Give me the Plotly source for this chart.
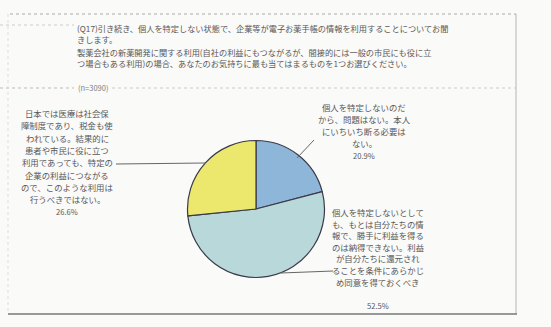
import plotly.graph_objects as go

W, H = 551, 327

# Survey answers (clockwise from 12 o'clock)
answer_lines = [
    ["個人を特定しないのだ", "から、問題はない。本人", "にいちいち断る必要は", "ない。"],
    ["個人を特定しないとして", "も、もとは自分たちの情", "報で、勝手に利益を得る", "のは納得できない。利益",
     "が自分たちに還元され", "ることを条件にあらかじ", "め同意を得ておくべき"],
    ["日本では医療は社会保", "障制度であり、税金も使", "われている。結果的に", "患者や市民に役に立つ",
     "利用であっても、特定の", "企業の利益につながる", "ので、このような利用は", "行うべきではない。"],
]
shares = [20.9, 52.5, 26.6]
colors = ["#8db6d9", "#b9d8da", "#ece86e"]

question_lines = [
    "(Q17)引き続き、個人を特定しない状態で、企業等が電子お薬手帳の情報を利用することについてお聞",
    "きします。",
    "製薬会社の新薬開発に関する利用(自社の利益にもつながるが、間接的には一般の市民にも役に立",
    "つ場合もある利用)の場合、あなたのお気持ちに最も当てはまるものを1つお選びください。",
]
sample_note = "(n=3090)"

FONT = "Noto Sans CJK JP"
TXT = "#585858"


def px(x):
    return x / W


def py(y):
    return 1 - y / H


# pie placement (pixels)
cx, cy, r = 256, 209, 68.5

fig = go.Figure()
fig.add_trace(go.Pie(
    values=shares,
    labels=["A", "B", "C"],
    sort=False,
    direction="clockwise",
    rotation=0,
    marker=dict(colors=colors, line=dict(color="#3a3a4a", width=1.2)),
    textinfo="none",
    hoverinfo="skip",
    showlegend=False,
    domain=dict(x=[px(cx - r), px(cx + r)], y=[py(cy + r), py(cy - r)]),
))

ann = []
shapes = []

# question block
for line, yy in zip(question_lines, [28, 39, 52, 63]):
    ann.append(dict(x=px(75), y=py(yy), xref="paper", yref="paper", text=line, showarrow=False,
                    xanchor="left", yanchor="middle", font=dict(family=FONT, size=8.2, color=TXT)))
ann.append(dict(x=px(76), y=py(88), xref="paper", yref="paper", text=sample_note, showarrow=False,
                xanchor="left", yanchor="middle", font=dict(family=FONT, size=7.5, color="#808080")))

# slice labels: (center x, first line y, line step)
label_pos = [(364, 107, 12.0), (378, 212, 11.6), (67, 113, 12.3)]
for lines, val, (lx, ly, step) in zip(answer_lines, shares, label_pos):
    for k, line in enumerate(lines):
        ann.append(dict(x=px(lx), y=py(ly + k * step), xref="paper", yref="paper", text=line,
                        showarrow=False, xanchor="center", yanchor="middle",
                        font=dict(family=FONT, size=8.4, color=TXT)))
    pct_y = ly + len(lines) * step + (12 if len(lines) == 7 else 0)
    ann.append(dict(x=px(lx), y=py(pct_y), xref="paper", yref="paper", text=f"{val}%",
                    showarrow=False, xanchor="center", yanchor="middle",
                    font=dict(family=FONT, size=7.6, color=TXT)))

# leader lines
for x0, y0, x1, y1 in [(314, 140, 297, 158), (116, 164, 205, 163), (281, 273, 333, 271)]:
    shapes.append(dict(type="line", xref="paper", yref="paper", x0=px(x0), y0=py(y0), x1=px(x1), y1=py(y1),
                       line=dict(color="#666666", width=1)))

# frame and rulings
shapes += [
    dict(type="line", xref="paper", yref="paper", x0=px(10), y0=py(14), x1=px(516), y1=py(14),
         line=dict(color="#aaaaaa", width=1, dash="dot")),
    dict(type="line", xref="paper", yref="paper", x0=px(0), y0=py(25), x1=px(74), y1=py(25),
         line=dict(color="#cccccc", width=1, dash="dot")),
    dict(type="line", xref="paper", yref="paper", x0=px(0), y0=py(88), x1=px(74), y1=py(88),
         line=dict(color="#bbbbbb", width=1, dash="dot")),
    dict(type="line", xref="paper", yref="paper", x0=px(112), y0=py(88), x1=px(516), y1=py(88),
         line=dict(color="#cccccc", width=1, dash="dot")),
    dict(type="line", xref="paper", yref="paper", x0=px(516), y0=py(14), x1=px(516), y1=py(314),
         line=dict(color="#b5b5b5", width=1)),
    dict(type="line", xref="paper", yref="paper", x0=px(8), y0=py(14), x1=px(8), y1=py(314),
         line=dict(color="#dddddd", width=1, dash="dot")),
    dict(type="line", xref="paper", yref="paper", x0=px(8), y0=py(314), x1=px(517), y1=py(314),
         line=dict(color="#777777", width=1.3)),
]

fig.update_layout(
    width=W, height=H,
    margin=dict(l=0, r=0, t=0, b=0),
    paper_bgcolor="#fafaf9",
    plot_bgcolor="#fafaf9",
    annotations=ann,
    shapes=shapes,
)

fig.write_html("out.html")
